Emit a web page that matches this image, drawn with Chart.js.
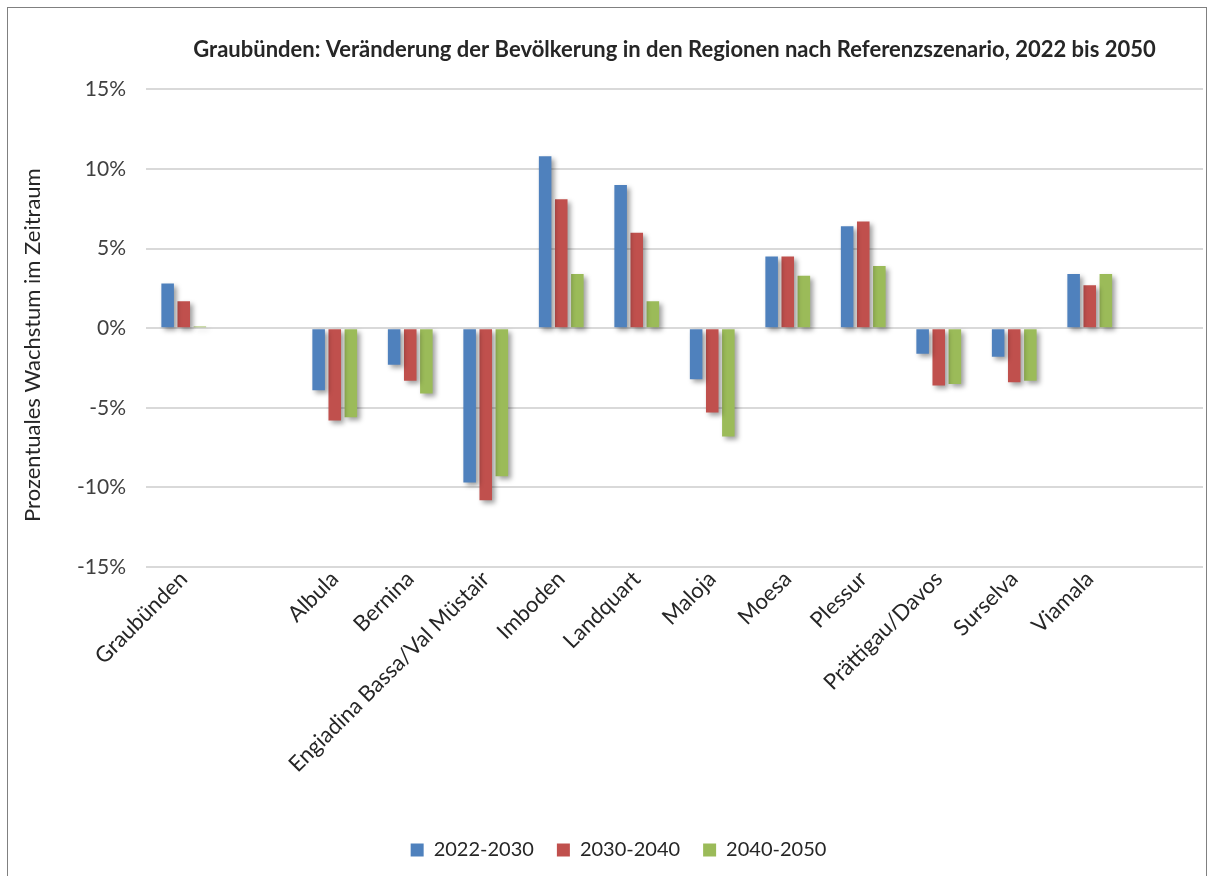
<!DOCTYPE html>
<html>
<head>
<meta charset="utf-8">
<script src="https://cdn.jsdelivr.net/npm/chart.js@4.4.0/dist/chart.umd.min.js"></script>
<style>
  html, body { margin: 0; padding: 0; background: #fff; }
  #wrap { position: relative; width: 1209px; height: 876px; overflow: hidden; }
  #frame { position: absolute; left: 7px; top: 7px; width: 1200px; height: 900px; border: 1.5px solid #808080; box-sizing: border-box; }
  #chart { position: absolute; left: 0; top: 0; }
</style>
</head>
<body>
<div id="wrap">
  <div id="frame"></div>
  <canvas id="chart" width="1209" height="876"></canvas>
</div>
<script>
// Regions (empty slots keep the gaps of the original chart)
const regions = [
  "Graubünden", "", "Albula", "Bernina", "Engiadina Bassa/Val Müstair",
  "Imboden", "Landquart", "Maloja", "Moesa", "Plessur",
  "Prättigau/Davos", "Surselva", "Viamala", ""
];

// growth in percent per period
const growth2022_2030 = [2.8, null, -3.9, -2.3, -9.7, 10.8, 9.0, -3.2, 4.5, 6.4, -1.6, -1.8, 3.4, null];
const growth2030_2040 = [1.7, null, -5.8, -3.3, -10.8, 8.1, 6.0, -5.3, 4.5, 6.7, -3.6, -3.4, 2.7, null];
const growth2040_2050 = [0.1, null, -5.6, -4.1, -9.3, 3.4, 1.7, -6.8, 3.3, 3.9, -3.5, -3.3, 3.4, null];

const periods = ["2022-2030", "2030-2040", "2040-2050"];
const colors = ["#4F81BD", "#C0504D", "#9BBB59"];

const yTicks = [-15, -10, -5, 0, 5, 10, 15];

const FONT = "Lato, 'Open Sans', sans-serif";

// drop shadow behind the bars
const barShadow = {
  id: "barShadow",
  beforeDatasetsDraw(chart) {
    const ctx = chart.ctx;
    ctx.save();
    ctx.shadowColor = "rgba(0,0,0,0.38)";
    ctx.shadowBlur = 5;
    ctx.shadowOffsetX = 3;
    ctx.shadowOffsetY = 3;
  },
  afterDatasetsDraw(chart) {
    chart.ctx.restore();
  }
};

const seriesValues = [growth2022_2030, growth2030_2040, growth2040_2050];

new Chart(document.getElementById("chart"), {
  type: "bar",
  data: {
    labels: regions,
    datasets: periods.map((p, i) => ({
      label: p,
      data: seriesValues[i],
      backgroundColor: colors[i],
      borderWidth: 0,
      categoryPercentage: 0.64,
      barPercentage: 0.78
    }))
  },
  plugins: [barShadow],
  options: {
    responsive: false,
    animation: false,
    layout: { padding: { left: 34, right: 6, top: 0, bottom: 6 } },
    plugins: {
      title: {
        display: true,
        fullSize: false,
        text: "Graubünden: Veränderung der Bevölkerung in den Regionen nach Referenzszenario, 2022 bis 2050",
        color: "#262626",
        font: { family: FONT, size: 22, weight: "bold" },
        padding: { top: 37, bottom: 26 }
      },
      legend: {
        position: "bottom",
        labels: {
          color: "#262626",
          font: { family: FONT, size: 20 },
          boxWidth: 13,
          boxHeight: 13,
          padding: 23
        }
      },
      tooltip: { enabled: false }
    },
    scales: {
      x: {
        grid: { display: false },
        border: { display: false },
        ticks: {
          autoSkip: false,
          maxRotation: 45,
          minRotation: 45,
          padding: -9,
          color: "#262626",
          font: { family: FONT, size: 22 }
        },
        afterFit(scale) { scale.height = 250; }
      },
      y: {
        min: -15,
        max: 15,
        afterBuildTicks(scale) { scale.ticks = yTicks.map(v => ({ value: v })); },
        grid: { color: "#d9d9d9", lineWidth: 2, drawTicks: false },
        border: { display: false },
        ticks: {
          padding: 20,
          color: "#404040",
          font: { family: FONT, size: 21 },
          callback: v => v + "%"
        },
        title: {
          display: true,
          text: "Prozentuales Wachstum im Zeitraum\u00a0\u00a0\u00a0\u00a0\u00a0\u00a0",
          color: "#262626",
          font: { family: FONT, size: 22 },
          padding: { top: -14, bottom: 4 }
        },
        afterFit(scale) { scale.width = 112; }
      }
    }
  }
});
</script>
</body>
</html>
